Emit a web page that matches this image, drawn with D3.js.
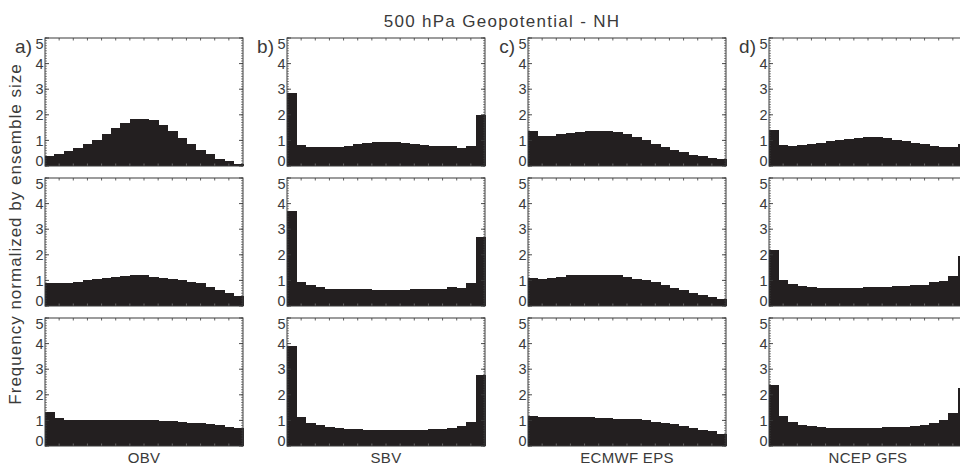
<!DOCTYPE html>
<html>
<head>
<meta charset="utf-8">
<script src="https://cdn.jsdelivr.net/npm/d3@7"></script>
<style>
  html, body { margin: 0; padding: 0; background: #fff; }
  svg { display: block; font-family: "Liberation Sans", Arial, Helvetica, sans-serif; }
</style>
</head>
<body>
<svg id="chart" width="960" height="465"></svg>
<script>
// Rank histograms (21 bins, 20-member ensembles), three rows per system
const ranks = d3.range(21);
const yTicks = [0, 1, 2, 3, 4, 5];
const panelLetters = ["a)", "b)", "c)", "d)"];
const systems = ["OBV", "SBV", "ECMWF EPS", "NCEP GFS"];

const obv = [
  [0.39, 0.46, 0.57, 0.70, 0.85, 1.03, 1.24, 1.48, 1.67, 1.82, 1.82, 1.78, 1.59, 1.35, 1.09, 0.85, 0.61, 0.46, 0.29, 0.18, 0.09],
  [0.88, 0.88, 0.88, 0.95, 1.00, 1.05, 1.08, 1.14, 1.18, 1.20, 1.20, 1.15, 1.08, 1.05, 1.00, 0.94, 0.88, 0.76, 0.63, 0.52, 0.39],
  [1.34, 1.10, 1.01, 1.01, 1.01, 1.01, 1.01, 1.01, 1.01, 1.03, 1.03, 1.03, 0.98, 0.98, 0.93, 0.90, 0.88, 0.84, 0.81, 0.73, 0.71]
];
const sbv = [
  [2.85, 0.81, 0.74, 0.74, 0.74, 0.74, 0.78, 0.85, 0.90, 0.94, 0.94, 0.94, 0.91, 0.87, 0.83, 0.79, 0.78, 0.78, 0.72, 0.78, 2.00],
  [3.70, 0.94, 0.81, 0.75, 0.68, 0.68, 0.68, 0.68, 0.68, 0.63, 0.63, 0.63, 0.63, 0.68, 0.68, 0.68, 0.68, 0.76, 0.72, 0.88, 2.68],
  [3.89, 1.14, 0.90, 0.81, 0.75, 0.71, 0.67, 0.67, 0.62, 0.62, 0.62, 0.62, 0.62, 0.62, 0.62, 0.65, 0.68, 0.72, 0.79, 0.94, 2.77]
];
const ecmwf = [
  [1.35, 1.16, 1.16, 1.24, 1.29, 1.33, 1.37, 1.37, 1.37, 1.32, 1.24, 1.13, 1.00, 0.87, 0.74, 0.61, 0.55, 0.44, 0.38, 0.33, 0.26],
  [1.11, 1.07, 1.11, 1.15, 1.20, 1.23, 1.23, 1.23, 1.23, 1.20, 1.15, 1.07, 1.02, 0.92, 0.81, 0.71, 0.61, 0.52, 0.43, 0.35, 0.29],
  [1.18, 1.14, 1.14, 1.14, 1.14, 1.14, 1.14, 1.11, 1.11, 1.06, 1.06, 1.06, 1.01, 0.94, 0.90, 0.84, 0.77, 0.71, 0.62, 0.58, 0.46]
];
const ncep = [
  [1.39, 0.81, 0.77, 0.81, 0.85, 0.90, 0.96, 1.00, 1.07, 1.11, 1.13, 1.13, 1.09, 1.03, 0.96, 0.91, 0.85, 0.78, 0.74, 0.74, 0.85],
  [2.20, 1.02, 0.84, 0.78, 0.75, 0.71, 0.71, 0.71, 0.71, 0.71, 0.75, 0.75, 0.75, 0.78, 0.78, 0.82, 0.82, 0.92, 0.98, 1.18, 1.96],
  [2.38, 1.18, 0.94, 0.81, 0.77, 0.75, 0.71, 0.71, 0.71, 0.71, 0.71, 0.71, 0.75, 0.75, 0.75, 0.77, 0.81, 0.88, 1.01, 1.27, 2.25]
];
const columns = [obv, sbv, ecmwf, ncep];

const svg = d3.select("#chart");
const colX = [45, 287, 528, 769];
const rowY = [38, 178, 318];
const pw = 198, ph = 128;
const barColor = "#231f20";
const inkColor = "#3a3a3a";

const x = d3.scaleBand().domain(ranks).range([0, pw]).paddingInner(0).paddingOuter(0);
const y = d3.scaleLinear().domain([0, 5]).range([ph, 0]);
const xt = d3.scaleLinear().domain([0, 14]).range([0, pw]);

columns.forEach((rows, c) => {
  rows.forEach((vals, r) => {
    const g = svg.append("g").attr("transform", `translate(${colX[c]},${rowY[r]})`);

    // bars
    g.selectAll("rect.bar").data(vals).join("rect")
      .attr("class", "bar")
      .attr("x", (d, i) => x(i))
      .attr("width", x.bandwidth() + 0.6)
      .attr("y", d => y(d))
      .attr("height", d => ph - y(d))
      .attr("fill", barColor)
      .attr("shape-rendering", "crispEdges");

    // minor and major y ticks on both sides
    const minor = d3.range(0, 5.001, 0.1);
    [0, pw].forEach((sx, side) => {
      const dir = side === 0 ? 1 : -1;
      g.selectAll(null).data(minor).join("line")
        .attr("x1", sx).attr("x2", sx + dir * 2)
        .attr("y1", d => y(d)).attr("y2", d => y(d))
        .attr("stroke", inkColor).attr("stroke-width", 0.6);
      g.selectAll(null).data(yTicks).join("line")
        .attr("x1", sx).attr("x2", sx + dir * 4)
        .attr("y1", d => y(d)).attr("y2", d => y(d))
        .attr("stroke", inkColor).attr("stroke-width", 0.9);
    });

    // x ticks along top and bottom edges
    const xtv = d3.range(1, 14);
    g.selectAll(null).data(xtv).join("line")
      .attr("x1", d => xt(d)).attr("x2", d => xt(d))
      .attr("y1", 0).attr("y2", 2.5)
      .attr("stroke", inkColor).attr("stroke-width", 0.8);
    g.selectAll(null).data(xtv).join("line")
      .attr("x1", d => xt(d)).attr("x2", d => xt(d))
      .attr("y1", ph).attr("y2", ph - 2.5)
      .attr("stroke", "#777").attr("stroke-width", 0.8);

    // border
    g.append("rect").attr("width", pw).attr("height", ph)
      .attr("fill", "none").attr("stroke", inkColor).attr("stroke-width", 1);

    // y tick labels, kept inside the frame's vertical extent
    g.selectAll("text.yl").data(yTicks).join("text")
      .attr("class", "yl")
      .attr("x", -1.5)
      .attr("y", d => Math.min(Math.max(y(d), 6), ph - 5))
      .attr("dy", "0.36em")
      .attr("text-anchor", "end")
      .attr("font-size", 14.5)
      .attr("fill", inkColor)
      .text(d => d);

    if (r === 0) {
      g.append("text")
        .attr("x", -13).attr("y", 15)
        .attr("text-anchor", "end")
        .attr("font-size", 19)
        .attr("fill", inkColor)
        .text(panelLetters[c]);
    }
    if (r === rows.length - 1) {
      g.append("text")
        .attr("x", pw / 2).attr("y", ph + 16.5)
        .attr("text-anchor", "middle")
        .attr("font-size", 15)
        .attr("letter-spacing", 0.3)
        .attr("fill", inkColor)
        .text(systems[c]);
    }
  });
});

svg.append("text")
  .attr("x", 502).attr("y", 27)
  .attr("text-anchor", "middle")
  .attr("font-size", 17)
  .attr("letter-spacing", 1.3)
  .attr("fill", inkColor)
  .text("500 hPa Geopotential - NH");

svg.append("text")
  .attr("transform", "translate(21,234) rotate(-90)")
  .attr("text-anchor", "middle")
  .attr("font-size", 17)
  .attr("letter-spacing", 1.0)
  .attr("fill", inkColor)
  .text("Frequency normalized by ensemble size");
</script>
</body>
</html>
